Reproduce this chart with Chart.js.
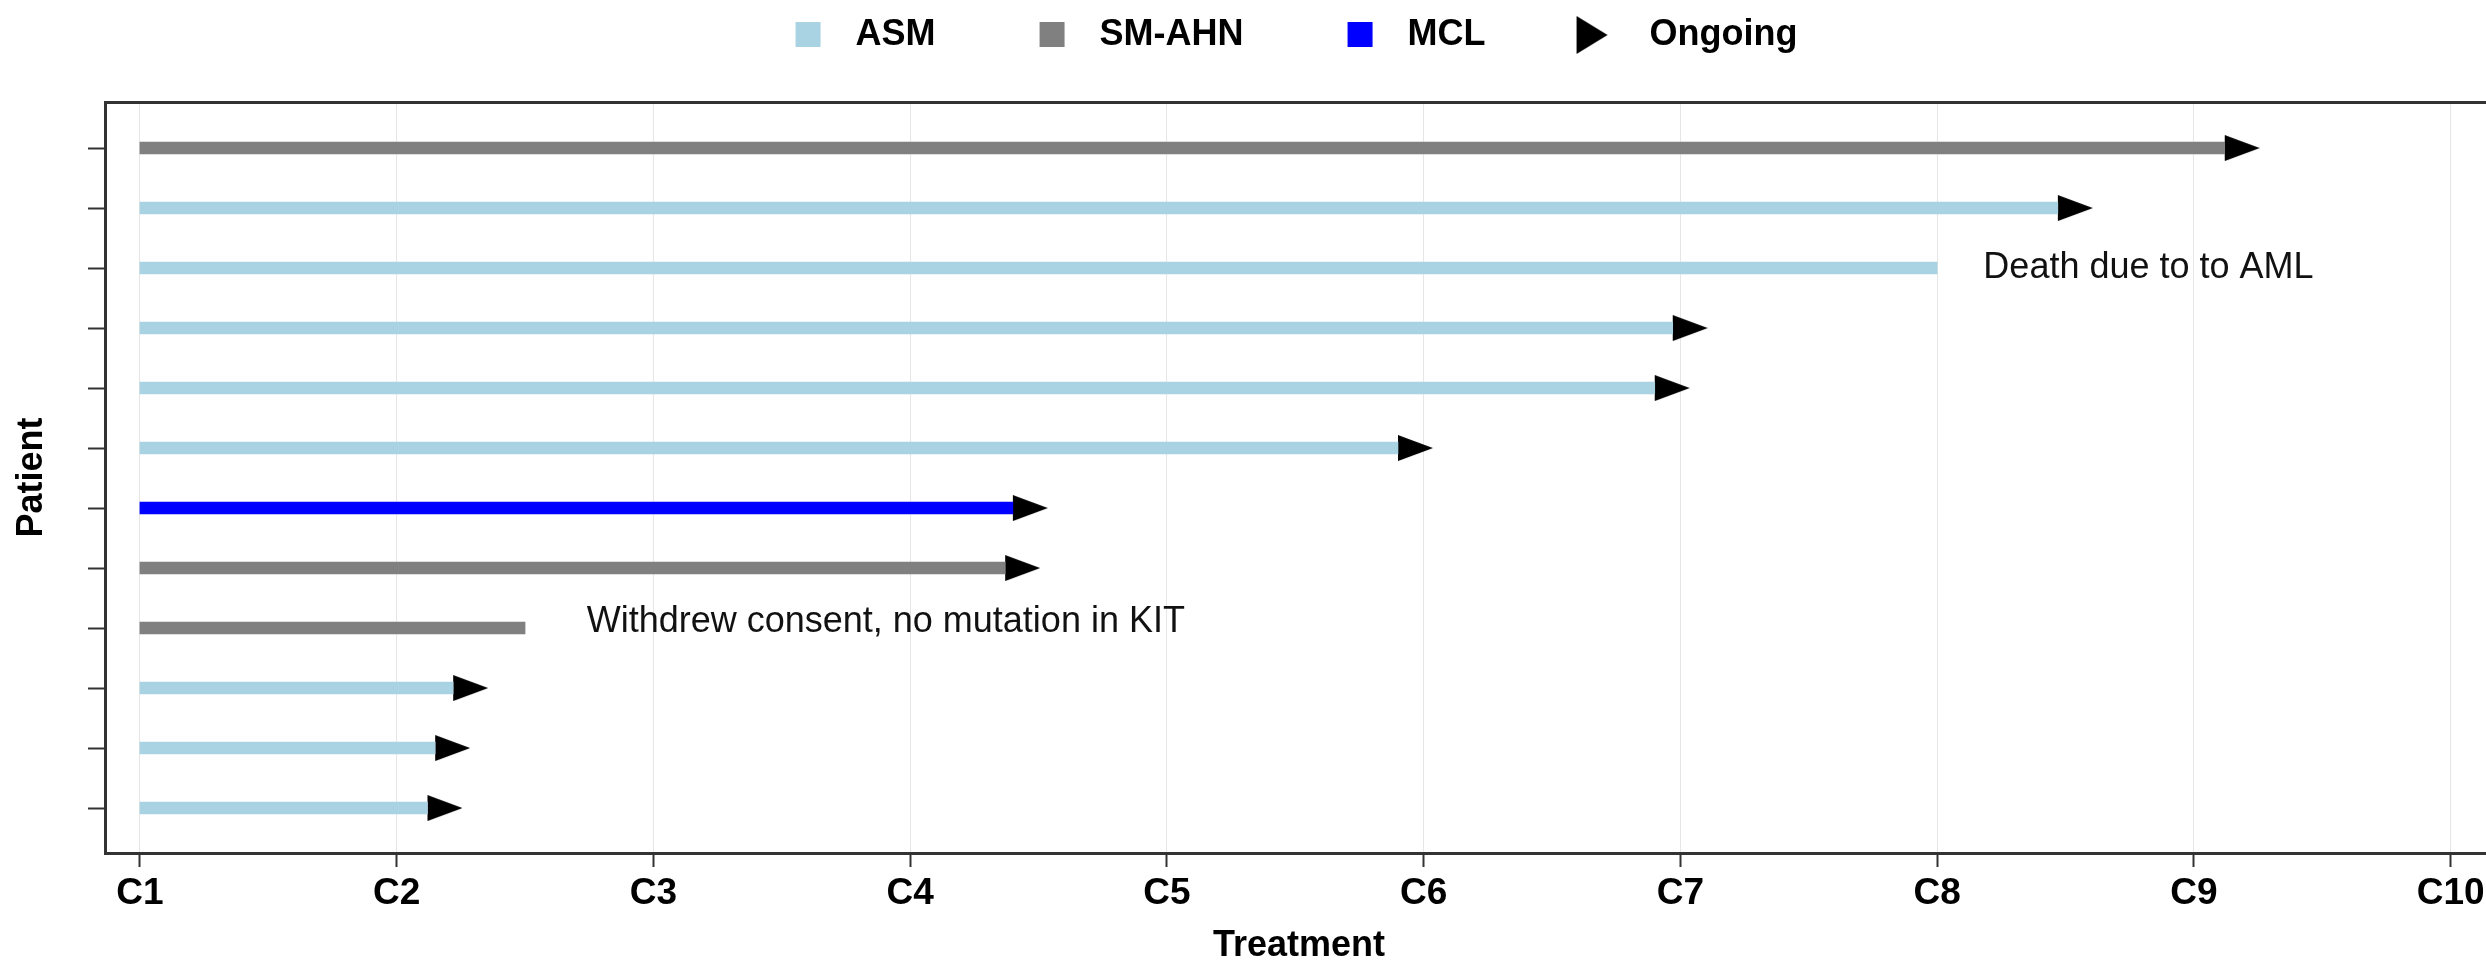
<!DOCTYPE html>
<html>
<head>
<meta charset="utf-8">
<script src="https://cdn.jsdelivr.net/npm/chart.js@4.4.1/dist/chart.umd.min.js"></script>
<style>
  html, body { margin: 0; padding: 0; background: #fff; overflow: hidden; }
  #wrap { width: 2510px; height: 960px; }
</style>
</head>
<body>
<div id="wrap"><canvas id="swimmer"></canvas></div>
<script>
// patients from top to bottom
const patients = [1, 2, 3, 4, 5, 6, 7, 8, 9, 10, 11, 12];
const diagnosis = ['SM-AHN', 'ASM', 'ASM', 'ASM', 'ASM', 'ASM', 'MCL', 'SM-AHN', 'SM-AHN', 'ASM', 'ASM', 'ASM'];
const treatmentStart = 1;
const treatmentEnd = [9.12, 8.47, 8.0, 6.97, 6.9, 5.9, 4.4, 4.37, 2.5, 2.22, 2.15, 2.12];
const ongoing = [true, true, false, true, true, true, true, true, false, true, true, true];

const cycleTicks = [1, 2, 3, 4, 5, 6, 7, 8, 9, 10];
const cycleLabels = ['C1', 'C2', 'C3', 'C4', 'C5', 'C6', 'C7', 'C8', 'C9', 'C10'];

const noteY = [3, 8.9];
const noteX = [8.18, 2.74];
const noteText = ['Death due to to AML', 'Withdrew consent, no mutation in KIT'];

const groups = ['ASM', 'SM-AHN', 'MCL'];
const groupColors = ['#a9d3e3', '#808080', '#0000ff'];

Chart.defaults.font.family = '"Liberation Sans", Arial, sans-serif';
Chart.defaults.color = '#000';

function makeCanvas(w, h, draw) {
    const c = document.createElement('canvas');
    c.width = w;
    c.height = h;
    draw(c.getContext('2d'));
    return c;
}

// arrow for the bars: base sits on the point, tip points right
const arrowImg = makeCanvas(70, 26, g => {
    g.fillStyle = '#000';
    g.beginPath();
    g.moveTo(35, 0);
    g.lineTo(70, 13);
    g.lineTo(35, 26);
    g.closePath();
    g.fill();
});

const legendSquares = groupColors.map(col => makeCanvas(104, 26, g => {
    g.fillStyle = col;
    g.fillRect(78, 0, 25, 25);
}));

const legendArrow = makeCanvas(90, 38, g => {
    g.fillStyle = '#000';
    g.beginPath();
    g.moveTo(58, 0);
    g.lineTo(89, 19);
    g.lineTo(58, 38);
    g.closePath();
    g.fill();
});

const legendItems = groups.map((grp, i) => ({
    text: grp,
    pointStyle: legendSquares[i],
    fillStyle: groupColors[i],
    strokeStyle: groupColors[i],
    lineWidth: 0,
    hidden: false
})).concat([{
    text: 'Ongoing',
    pointStyle: legendArrow,
    fillStyle: '#000',
    strokeStyle: '#000',
    lineWidth: 0,
    hidden: false
}]);

const notesPlugin = {
    id: 'notes',
    afterDatasetsDraw(chart) {
        const {ctx, scales: {x, y}} = chart;
        ctx.save();
        ctx.font = '36px "Liberation Sans", Arial, sans-serif';
        ctx.fillStyle = '#111';
        ctx.textBaseline = 'middle';
        noteText.forEach((t, i) => {
            ctx.fillText(t, x.getPixelForValue(noteX[i]), y.getPixelForValue(noteY[i]));
        });
        ctx.restore();
    }
};

const barData = patients.map((p, i) => ({x: [treatmentStart, treatmentEnd[i]], y: p}));
const barColors = diagnosis.map(d => groupColors[groups.indexOf(d)]);
const arrowData = patients
    .map((p, i) => ({x: treatmentEnd[i], y: p}))
    .filter((pt, i) => ongoing[i]);

const config = {
    type: 'bar',
    data: {
        datasets: [
            {
                type: 'bar',
                indexAxis: 'y',
                data: barData,
                backgroundColor: barColors,
                borderWidth: 0,
                borderSkipped: false,
                barThickness: 12,
                xAxisID: 'x',
                yAxisID: 'y'
            },
            {
                type: 'scatter',
                data: arrowData,
                pointStyle: arrowImg,
                pointRadius: 16,
                xAxisID: 'x',
                yAxisID: 'y'
            }
        ]
    },
    options: {
        responsive: true,
        maintainAspectRatio: false,
        animation: false,
        events: [],
        layout: {padding: {top: 7, right: 11, left: 0, bottom: 0}},
        plugins: {
            tooltip: {enabled: false},
            legend: {
                position: 'top',
                labels: {
                    usePointStyle: true,
                    pointStyleWidth: 136,
                    padding: 10,
                    font: {size: 36, weight: 'bold'},
                    color: '#000',
                    generateLabels: () => legendItems
                }
            }
        },
        scales: {
            x: {
                type: 'linear',
                position: 'bottom',
                offset: false,
                min: 0.864,
                max: 10.165,
                afterBuildTicks: s => { s.ticks = cycleTicks.map(v => ({value: v})); },
                ticks: {
                    callback: (v, i) => cycleLabels[i],
                    font: {size: 37, weight: 'bold'},
                    color: '#000',
                    padding: 5,
                    maxRotation: 0,
                    autoSkip: false
                },
                grid: {offset: false, color: '#e6e6e6', lineWidth: 1, tickColor: '#333', tickWidth: 2, tickLength: 14},
                border: {color: '#333', width: 3},
                title: {
                    display: true,
                    text: 'Treatment',
                    font: {size: 36, weight: 'bold', lineHeight: 0.8},
                    color: '#000',
                    padding: 0
                },
                afterFit: s => { s.height = 107; }
            },
            x2: {
                type: 'linear',
                position: 'top',
                offset: false,
                min: 0,
                max: 1,
                ticks: {display: false},
                grid: {offset: false, drawOnChartArea: false, drawTicks: false},
                border: {color: '#333', width: 3},
                afterFit: s => { s.height = 39; }
            },
            y: {
                type: 'linear',
                reverse: true,
                offset: false,
                min: 0.233,
                max: 12.75,
                afterBuildTicks: s => { s.ticks = patients.map(v => ({value: v})); },
                ticks: {display: false},
                grid: {offset: false, drawOnChartArea: false, tickColor: '#333', tickWidth: 2, tickLength: 17},
                border: {color: '#333', width: 3},
                title: {
                    display: true,
                    text: 'Patient',
                    font: {size: 36, weight: 'bold'},
                    color: '#000',
                    padding: {top: 10, bottom: 0}
                },
                afterFit: s => { s.width = 105; }
            }
        }
    },
    plugins: [notesPlugin]
};

const swimmerChart = new Chart(
    document.querySelector('#swimmer'),
    config
);
</script>
</body>
</html>
